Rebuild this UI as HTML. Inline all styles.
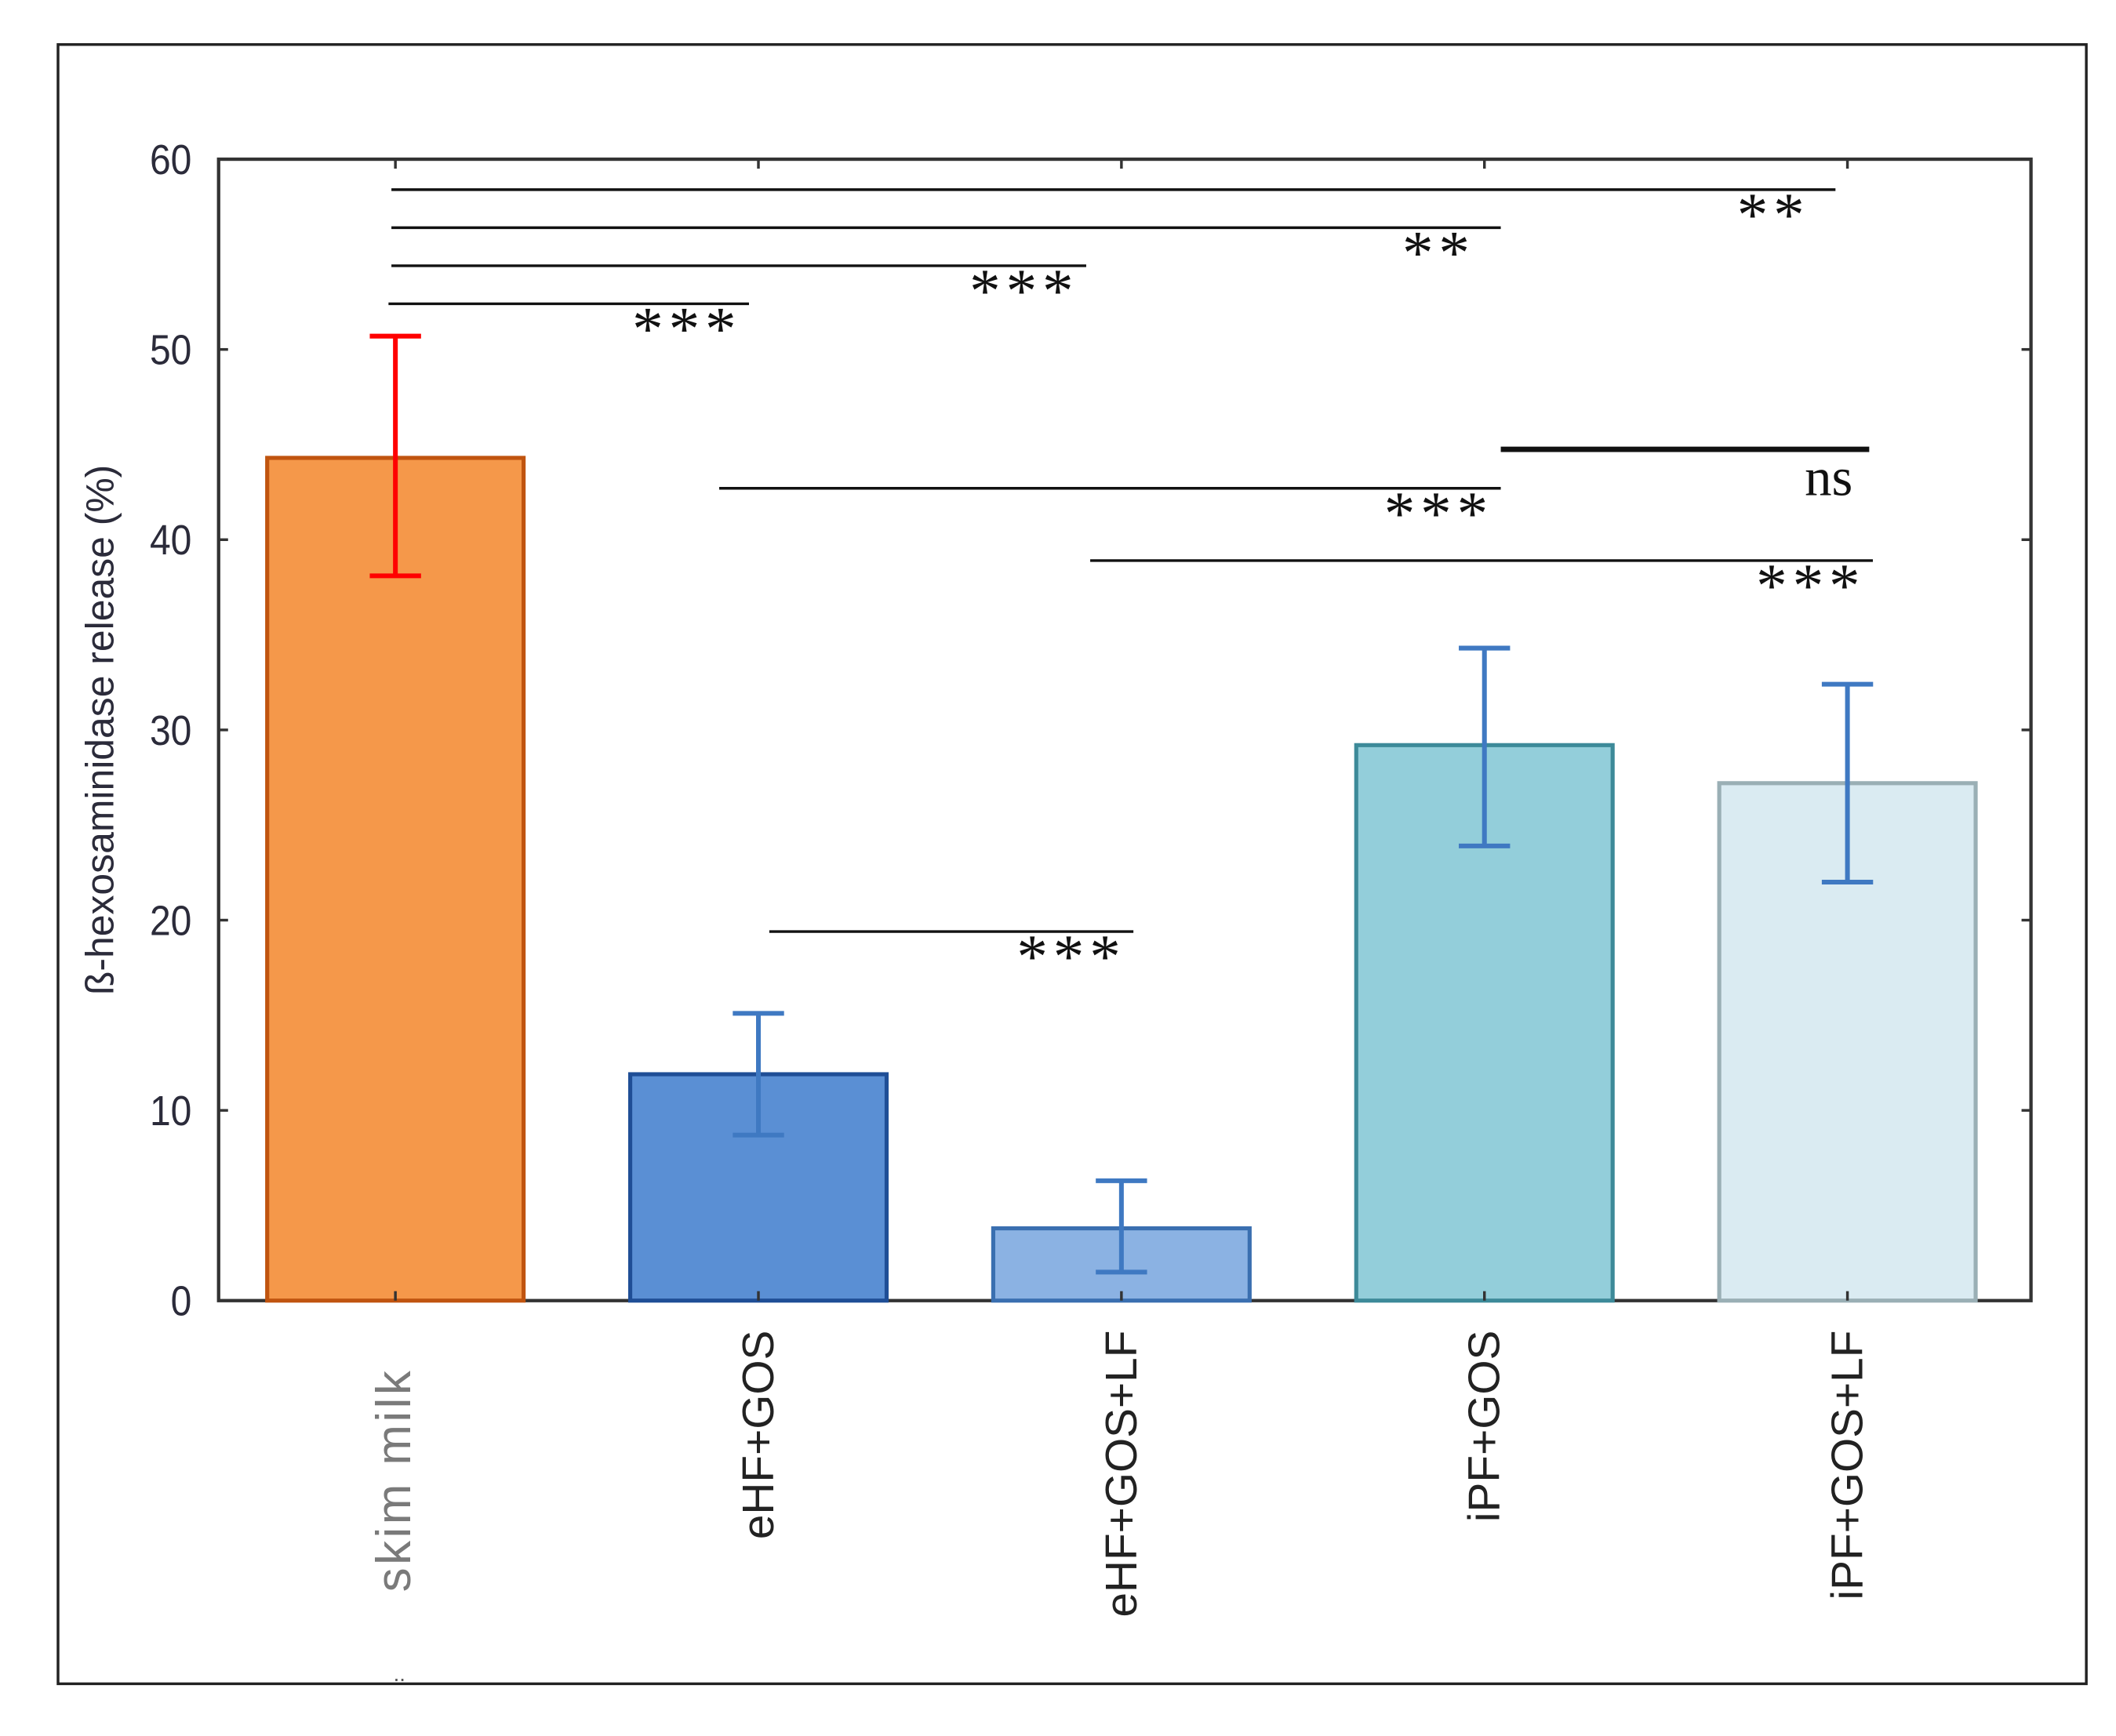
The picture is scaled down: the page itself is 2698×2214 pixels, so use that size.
<!DOCTYPE html>
<html><head><meta charset="utf-8"><style>html,body{margin:0;padding:0;background:#fff}svg{display:block}</style></head>
<body>
<svg id="chart" xmlns="http://www.w3.org/2000/svg" width="2698" height="2214" viewBox="0 0 1568 1286.7">
<rect x="43" y="33" width="1503" height="1215" fill="#fff" stroke="#222" stroke-width="2"/>
<g id="plot"></g>
</svg>
<script>
const categories = ["skim milk","eHF+GOS","eHF+GOS+LF","iPF+GOS","iPF+GOS+LF"];
const values = [44.3, 11.9, 3.8, 29.2, 27.2];
const errLow = [38.1, 8.7, 1.5, 23.9, 22.0];
const errHigh = [50.7, 15.1, 6.3, 34.3, 32.4];
const yTicks = [0,10,20,30,40,50,60];
const sigFrom = [-0.011,-0.011,-0.011,-0.019,3.045,0.892,1.914,1.03];
const sigTo = [3.967,3.045,1.903,0.974,4.06,3.045,4.07,2.033];
const sigLevel = [58.4,56.4,54.4,52.4,44.75,42.7,38.9,19.4];
const sigLabel = ["**","**","***","***","ns","***","***","***"];

const NS="http://www.w3.org/2000/svg";
const L=162,R=1505,T=118,B=964;
const y=v=>B-(v/60)*(B-T);
const x=i=>293+i*269;
const bw=190;
const fills=["#F5984A","#5A8FD4","#8BB2E3","#93CEDA","#DAEBF2"];
const strokes=["#C0540F","#1F4E96","#3A6FB0","#3D8A99","#9AAFB5"];
const g=document.getElementById('plot');
function el(t,a){const e=document.createElementNS(NS,t);for(const k in a)e.setAttribute(k,a[k]);g.appendChild(e);return e;}

let ax=el('rect',{x:L,y:T,width:R-L,height:B-T,fill:'none',stroke:'#333','stroke-width':2.5});



yTicks.forEach(v=>{
  let t1=el('line',{x1:L,x2:L+7,y1:y(v),y2:y(v),stroke:'#333','stroke-width':2});
  
  
  let t2=el('line',{x1:R-7,x2:R,y1:y(v),y2:y(v),stroke:'#333','stroke-width':2});
  
  
  let tl=el('text',{x:L-20,y:y(v)+11,'text-anchor':'end','font-family':'Liberation Sans, sans-serif','font-size':31,fill:'#2b2b3a',transform:`translate(${(L-20)*0.1},0) scale(0.9,1)`});
  tl.textContent=v;
  
  
});

categories.forEach((c,i)=>{
  let b=el('rect',{x:x(i)-bw/2,y:y(values[i]),width:bw,height:B-y(values[i]),fill:fills[i],stroke:strokes[i],'stroke-width':3});
  
  
  let xt=el('line',{x1:x(i),x2:x(i),y1:B,y2:B-7,stroke:'#333','stroke-width':2});
  
  
  let xt2=el('line',{x1:x(i),x2:x(i),y1:T,y2:T+7,stroke:'#333','stroke-width':2});
  
  
  const ec=i===0?'#FF0000':'#3F79C2';
  let e1=el('path',{d:`M${x(i)},${y(errLow[i])}V${y(errHigh[i])}M${x(i)-19},${y(errLow[i])}H${x(i)+19}M${x(i)-19},${y(errHigh[i])}H${x(i)+19}`,stroke:ec,'stroke-width':3.5,fill:'none'});
  
  
  let lb=el('text',{transform:`translate(${x(i)+11},${B+(i===0?50:22)}) rotate(-90)`,'text-anchor':'end','font-family':'Liberation Sans, sans-serif','font-size':i===0?36:33,fill:i===0?'#7a7a7a':'#222','letter-spacing':i===0?2:0});
  lb.textContent=i===0?'skim  milk':c;
  
  
});

sigLevel.forEach((v,k)=>{
  const isNs=sigLabel[k]==='ns';
  const x1=x(sigFrom[k]), x2=x(sigTo[k]);
  let ln=el('line',{x1:x1,x2:x2,y1:y(v),y2:y(v),stroke:'#111','stroke-width':isNs?4:2});
  
  
  let tx=el('text',{x:x2-(isNs?30:46),y:y(v)+(isNs?34:34),'text-anchor':'middle','font-family':'Liberation Serif, serif','font-size':isNs?40:46,fill:'#111','letter-spacing':isNs?0:4});
  tx.textContent=sigLabel[k];
  
  
});

let yt=el('text',{transform:'translate(84,541) rotate(-90)','text-anchor':'middle','font-family':'Liberation Sans, sans-serif','font-size':29,fill:'#2b2b3a'});
yt.textContent='ß-hexosaminidase release (%)';


let dots=el('text',{x:296,y:1246,'text-anchor':'middle','font-family':'Liberation Sans, sans-serif','font-size':16,fill:'#555'});
dots.textContent='..';


</script>
</body></html>
